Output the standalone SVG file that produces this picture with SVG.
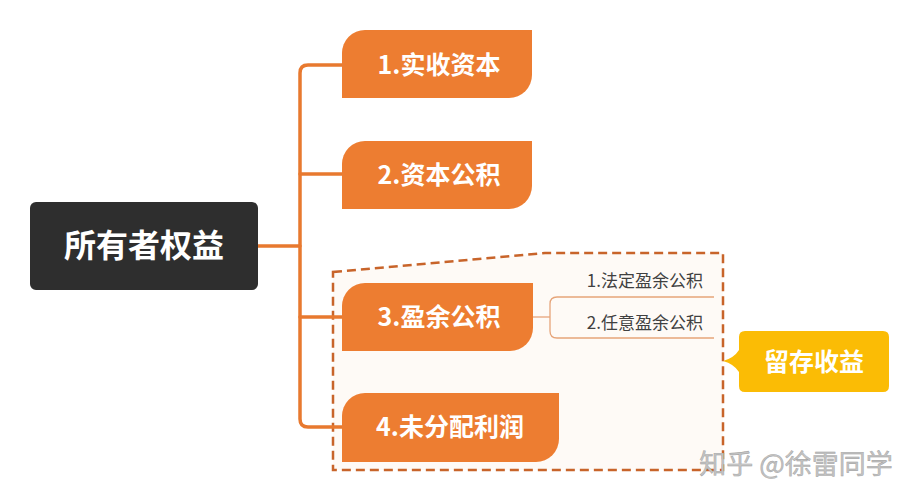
<svg xmlns="http://www.w3.org/2000/svg" width="918" height="500" viewBox="0 0 918 500">
<style>
.topic{fill:#ED7D31}
.tt{fill:#fff;font-family:"Noto Sans CJK SC","Noto Sans",sans-serif;font-weight:bold;font-size:25px;text-anchor:middle}
.sub{fill:#404040;font-family:"Noto Sans CJK SC","Noto Sans",sans-serif;font-size:17px;text-anchor:end}
.conn{fill:none;stroke:#E8792F;stroke-width:3.5;stroke-linecap:round;stroke-linejoin:round}
.thin{fill:none;stroke:#E6A57A;stroke-width:1.3}
</style>
<rect width="918" height="500" fill="#fff"/>
<g id="boundary">
<path d="M333,272 L545,253 L723,253 L723,470 L333,470 Z" fill="#FEFAF6" stroke="#C8642A" stroke-width="2.5" stroke-dasharray="9,5"/>
</g>
<g id="connectors">
<path class="conn" d="M258,246 H300"/>
<path class="conn" d="M342,65 H308 Q300,65 300,73 V419 Q300,427 308,427 H342"/>
<path class="conn" d="M300,174 H342"/>
<path class="conn" d="M300,317 H342"/>
<path class="thin" d="M533,317 H550"/>
<path class="thin" d="M714,297 H557 Q550,297 550,304 V331 Q550,338 557,338 H714"/>
</g>
<g id="root">
<rect x="30" y="202" width="228" height="88" rx="6" fill="#2E2E2E"/>
<text x="144" y="257" fill="#fff" font-family="'Noto Sans CJK SC','Noto Sans',sans-serif" font-weight="bold" font-size="32" text-anchor="middle">所有者权益</text>
</g>
<g id="n1">
<path class="topic" d="M342,98 V53 A23,23 0 0 1 365,30 H532 V75 A23,23 0 0 1 509,98 Z"/>
<text class="tt" x="439" y="74">1.实收资本</text>
</g>
<g id="n2">
<path class="topic" d="M342,209 V164 A23,23 0 0 1 365,141 H532 V186 A23,23 0 0 1 509,209 Z"/>
<text class="tt" x="439" y="184">2.资本公积</text>
</g>
<g id="n3">
<path class="topic" d="M342,351 V306 A23,23 0 0 1 365,283 H533 V328 A23,23 0 0 1 510,351 Z"/>
<text class="tt" x="439" y="326">3.盈余公积</text>
</g>
<g id="n4">
<path class="topic" d="M342,462 V416 A23,23 0 0 1 365,393 H559 V439 A23,23 0 0 1 536,462 Z"/>
<text class="tt" x="450" y="436">4.未分配利润</text>
</g>
<g id="s1">
<text class="sub" x="703" y="287">1.法定盈余公积</text>
</g>
<g id="s2">
<text class="sub" x="703" y="329">2.任意盈余公积</text>
</g>
<g id="callout">
<path d="M745,331 H883 Q889,331 889,337 V386 Q889,392 883,392 H745 Q739,392 739,386 V372 Q734,364 723,361 Q734,358 739,350 V337 Q739,331 745,331 Z" fill="#FBBC05"/>
<text class="tt" x="814" y="371">留存收益</text>
</g>
<g id="watermark">
<text x="796" y="474" fill="#C4C4C4" stroke="#9a9a9a" stroke-width="0.4" font-family="'Noto Sans CJK SC','Noto Sans',sans-serif" font-size="27" text-anchor="middle">知乎 @徐雷同学</text>
</g>
</svg>
